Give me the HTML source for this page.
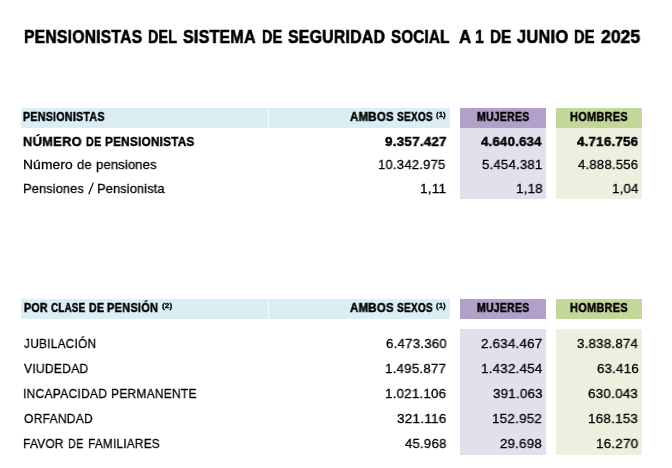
<!DOCTYPE html>
<html><head><meta charset="utf-8"><style>
html,body{margin:0;padding:0;background:#fff;width:672px;height:468px;overflow:hidden}
body{position:relative;font-family:"Liberation Sans",sans-serif;color:#000}
.b{position:absolute}
.t{position:absolute;white-space:pre;line-height:1;transform-origin:0 0;will-change:transform}
</style></head><body>
<div class="b" style="left:21px;top:108px;width:429px;height:20px;background:#DAEEF3"></div>
<div class="b" style="left:268px;top:108px;width:1px;height:20px;background:#F4FBFC"></div>
<div class="b" style="left:460px;top:108px;width:86px;height:20px;background:#B1A0C7"></div>
<div class="b" style="left:556px;top:108px;width:86px;height:20px;background:#C4D79B"></div>
<div class="b" style="left:460px;top:128px;width:86px;height:71px;background:#E4DFEC"></div>
<div class="b" style="left:556px;top:128px;width:86px;height:71px;background:#EBF1DE"></div>
<div class="b" style="left:21px;top:299px;width:429px;height:20px;background:#DAEEF3"></div>
<div class="b" style="left:268px;top:299px;width:1px;height:20px;background:#F4FBFC"></div>
<div class="b" style="left:460px;top:299px;width:86px;height:20px;background:#B1A0C7"></div>
<div class="b" style="left:556px;top:299px;width:86px;height:20px;background:#C4D79B"></div>
<div class="b" style="left:460px;top:329px;width:86px;height:125.5px;background:#E4DFEC"></div>
<div class="b" style="left:556px;top:329px;width:86px;height:125.5px;background:#EBF1DE"></div>
<svg class="b" style="left:85px;top:180px" width="12" height="17" viewBox="85 180 12 17"><line x1="88.7" y1="194.3" x2="93.4" y2="182.6" stroke="#000" stroke-width="1.15"/></svg>
<div class="t" style="left:23.98px;top:28px;font-size:18.314px;font-weight:700;transform:scaleX(0.8546);-webkit-text-stroke:0.6px #000;letter-spacing:0.30px">PENSIONISTAS</div>
<div class="t" style="left:148.07px;top:28px;font-size:18.314px;font-weight:700;transform:scaleX(0.7789);-webkit-text-stroke:0.6px #000;letter-spacing:0.30px">DEL</div>
<div class="t" style="left:183.30px;top:28px;font-size:18.314px;font-weight:700;transform:scaleX(0.8720);-webkit-text-stroke:0.6px #000;letter-spacing:0.30px">SISTEMA</div>
<div class="t" style="left:261.66px;top:28px;font-size:18.314px;font-weight:700;transform:scaleX(0.7875);-webkit-text-stroke:0.6px #000;letter-spacing:0.30px">DE</div>
<div class="t" style="left:288.10px;top:28px;font-size:18.314px;font-weight:700;transform:scaleX(0.8637);-webkit-text-stroke:0.6px #000;letter-spacing:0.30px">SEGURIDAD</div>
<div class="t" style="left:390.72px;top:28px;font-size:18.314px;font-weight:700;transform:scaleX(0.8257);-webkit-text-stroke:0.6px #000;letter-spacing:0.30px">SOCIAL</div>
<div class="t" style="left:458.56px;top:28px;font-size:18.314px;font-weight:700;transform:scaleX(0.9234);-webkit-text-stroke:0.6px #000">A</div>
<div class="t" style="left:475.36px;top:28px;font-size:18.314px;font-weight:700;transform:scaleX(0.8597);-webkit-text-stroke:0.6px #000">1</div>
<div class="t" style="left:490.22px;top:28px;font-size:18.314px;font-weight:700;transform:scaleX(0.8252);-webkit-text-stroke:0.6px #000;letter-spacing:0.30px">DE</div>
<div class="t" style="left:517.05px;top:28px;font-size:18.314px;font-weight:700;transform:scaleX(0.8950);-webkit-text-stroke:0.6px #000;letter-spacing:0.30px">JUNIO</div>
<div class="t" style="left:573.75px;top:28px;font-size:18.314px;font-weight:700;transform:scaleX(0.7959);-webkit-text-stroke:0.6px #000;letter-spacing:0.30px">DE</div>
<div class="t" style="left:600.67px;top:28px;font-size:18.314px;font-weight:700;transform:scaleX(0.9619);-webkit-text-stroke:0.6px #000">2025</div>
<div class="t" style="left:23.28px;top:112px;font-size:11.919px;font-weight:700;transform:scaleX(0.8939);-webkit-text-stroke:0.45px #000;letter-spacing:0.30px">PENSIONISTAS</div>
<div class="t" style="left:350.20px;top:112px;font-size:11.919px;font-weight:700;transform:scaleX(0.9591);-webkit-text-stroke:0.45px #000;letter-spacing:0.30px">AMBOS</div>
<div class="t" style="left:396.97px;top:112px;font-size:11.919px;font-weight:700;transform:scaleX(0.8439);-webkit-text-stroke:0.45px #000;letter-spacing:0.30px">SEXOS</div>
<div class="t" style="left:436.39px;top:111px;font-size:7.914px;font-weight:700;transform:scaleX(1.0071);-webkit-text-stroke:0.3px #000">(1)</div>
<div class="t" style="left:476.55px;top:112px;font-size:11.919px;font-weight:700;transform:scaleX(0.8771);-webkit-text-stroke:0.45px #000;letter-spacing:0.30px">MUJERES</div>
<div class="t" style="left:569.51px;top:112px;font-size:11.919px;font-weight:700;transform:scaleX(0.9194);-webkit-text-stroke:0.45px #000;letter-spacing:0.30px">HOMBRES</div>
<div class="t" style="left:23.53px;top:303px;font-size:11.919px;font-weight:700;transform:scaleX(0.8940);-webkit-text-stroke:0.45px #000;letter-spacing:0.30px">POR</div>
<div class="t" style="left:50.63px;top:303px;font-size:11.919px;font-weight:700;transform:scaleX(0.8223);-webkit-text-stroke:0.45px #000;letter-spacing:0.30px">CLASE</div>
<div class="t" style="left:88.74px;top:303px;font-size:11.919px;font-weight:700;transform:scaleX(0.8855);-webkit-text-stroke:0.45px #000;letter-spacing:0.30px">DE</div>
<div class="t" style="left:107.41px;top:303px;font-size:11.919px;font-weight:700;transform:scaleX(0.9198);-webkit-text-stroke:0.45px #000;letter-spacing:0.30px">PENSIÓN</div>
<div class="t" style="left:161.77px;top:302px;font-size:7.914px;font-weight:700;transform:scaleX(1.0630);-webkit-text-stroke:0.3px #000">(2)</div>
<div class="t" style="left:350.20px;top:303px;font-size:11.919px;font-weight:700;transform:scaleX(0.9591);-webkit-text-stroke:0.45px #000;letter-spacing:0.30px">AMBOS</div>
<div class="t" style="left:396.97px;top:303px;font-size:11.919px;font-weight:700;transform:scaleX(0.8439);-webkit-text-stroke:0.45px #000;letter-spacing:0.30px">SEXOS</div>
<div class="t" style="left:436.39px;top:302px;font-size:7.914px;font-weight:700;transform:scaleX(1.0071);-webkit-text-stroke:0.3px #000">(1)</div>
<div class="t" style="left:476.55px;top:303px;font-size:11.919px;font-weight:700;transform:scaleX(0.8771);-webkit-text-stroke:0.45px #000;letter-spacing:0.30px">MUJERES</div>
<div class="t" style="left:569.51px;top:303px;font-size:11.919px;font-weight:700;transform:scaleX(0.9194);-webkit-text-stroke:0.45px #000;letter-spacing:0.30px">HOMBRES</div>
<div class="t" style="left:23.49px;top:135px;font-size:13.663px;font-weight:700;transform:scaleX(0.9430);-webkit-text-stroke:0.45px #000;letter-spacing:0.30px">NÚMERO</div>
<div class="t" style="left:86.13px;top:135px;font-size:13.663px;font-weight:700;transform:scaleX(0.7855);-webkit-text-stroke:0.45px #000;letter-spacing:0.30px">DE</div>
<div class="t" style="left:105.46px;top:135px;font-size:13.663px;font-weight:700;transform:scaleX(0.8590);-webkit-text-stroke:0.45px #000;letter-spacing:0.30px">PENSIONISTAS</div>
<div class="t" style="left:384.72px;top:135px;font-size:13.663px;font-weight:700;transform:scaleX(0.9876);-webkit-text-stroke:0.45px #000;letter-spacing:0.20px">9.357.427</div>
<div class="t" style="left:481.13px;top:135px;font-size:13.663px;font-weight:700;transform:scaleX(0.9692);-webkit-text-stroke:0.45px #000;letter-spacing:0.20px">4.640.634</div>
<div class="t" style="left:577.12px;top:135px;font-size:13.663px;font-weight:700;transform:scaleX(0.9784);-webkit-text-stroke:0.45px #000;letter-spacing:0.20px">4.716.756</div>
<div class="t" style="left:23.24px;top:158px;font-size:13.663px;font-weight:400;transform:scaleX(1.0139);-webkit-text-stroke:0.3px #000;letter-spacing:0.10px">Número</div>
<div class="t" style="left:76.93px;top:158px;font-size:13.663px;font-weight:400;transform:scaleX(0.9515);-webkit-text-stroke:0.3px #000;letter-spacing:0.10px">de</div>
<div class="t" style="left:95.96px;top:158px;font-size:13.663px;font-weight:400;transform:scaleX(0.9605);-webkit-text-stroke:0.3px #000;letter-spacing:0.10px">pensiones</div>
<div class="t" style="left:378.17px;top:158px;font-size:13.663px;font-weight:400;transform:scaleX(0.9593);-webkit-text-stroke:0.3px #000;letter-spacing:0.20px">10.342.975</div>
<div class="t" style="left:481.72px;top:158px;font-size:13.663px;font-weight:400;transform:scaleX(0.9656);-webkit-text-stroke:0.3px #000;letter-spacing:0.20px">5.454.381</div>
<div class="t" style="left:577.89px;top:158px;font-size:13.663px;font-weight:400;transform:scaleX(0.9619);-webkit-text-stroke:0.3px #000;letter-spacing:0.20px">4.888.556</div>
<div class="t" style="left:23.32px;top:182px;font-size:13.663px;font-weight:400;transform:scaleX(0.9423);-webkit-text-stroke:0.3px #000;letter-spacing:0.10px">Pensiones</div>
<div class="t" style="left:97.32px;top:182px;font-size:13.663px;font-weight:400;transform:scaleX(0.9434);-webkit-text-stroke:0.3px #000;letter-spacing:0.10px">Pensionista</div>
<div class="t" style="left:419.63px;top:182px;font-size:13.663px;font-weight:400;transform:scaleX(0.9991);-webkit-text-stroke:0.3px #000;letter-spacing:0.20px">1,11</div>
<div class="t" style="left:515.65px;top:182px;font-size:13.663px;font-weight:400;transform:scaleX(0.9803);-webkit-text-stroke:0.3px #000;letter-spacing:0.20px">1,18</div>
<div class="t" style="left:611.65px;top:182px;font-size:13.663px;font-weight:400;transform:scaleX(0.9725);-webkit-text-stroke:0.3px #000;letter-spacing:0.20px">1,04</div>
<div class="t" style="left:23.67px;top:337px;font-size:13.663px;font-weight:400;transform:scaleX(0.8679);-webkit-text-stroke:0.3px #000;letter-spacing:0.30px">JUBILACIÓN</div>
<div class="t" style="left:385.58px;top:337px;font-size:13.663px;font-weight:400;transform:scaleX(0.9738);-webkit-text-stroke:0.3px #000;letter-spacing:0.20px">6.473.360</div>
<div class="t" style="left:481.08px;top:337px;font-size:13.663px;font-weight:400;transform:scaleX(0.9809);-webkit-text-stroke:0.3px #000;letter-spacing:0.20px">2.634.467</div>
<div class="t" style="left:577.18px;top:337px;font-size:13.663px;font-weight:400;transform:scaleX(0.9765);-webkit-text-stroke:0.3px #000;letter-spacing:0.20px">3.838.874</div>
<div class="t" style="left:24.15px;top:362px;font-size:13.663px;font-weight:400;transform:scaleX(0.8826);-webkit-text-stroke:0.3px #000;letter-spacing:0.30px">VIUDEDAD</div>
<div class="t" style="left:385.35px;top:362px;font-size:13.663px;font-weight:400;transform:scaleX(0.9765);-webkit-text-stroke:0.3px #000;letter-spacing:0.20px">1.495.877</div>
<div class="t" style="left:480.74px;top:362px;font-size:13.663px;font-weight:400;transform:scaleX(0.9820);-webkit-text-stroke:0.3px #000;letter-spacing:0.20px">1.432.454</div>
<div class="t" style="left:596.69px;top:362px;font-size:13.663px;font-weight:400;transform:scaleX(0.9725);-webkit-text-stroke:0.3px #000;letter-spacing:0.20px">63.416</div>
<div class="t" style="left:23.07px;top:387px;font-size:13.663px;font-weight:400;transform:scaleX(0.8803);-webkit-text-stroke:0.3px #000;letter-spacing:0.30px">INCAPACIDAD</div>
<div class="t" style="left:110.89px;top:387px;font-size:13.663px;font-weight:400;transform:scaleX(0.8757);-webkit-text-stroke:0.3px #000;letter-spacing:0.30px">PERMANENTE</div>
<div class="t" style="left:385.15px;top:387px;font-size:13.663px;font-weight:400;transform:scaleX(0.9787);-webkit-text-stroke:0.3px #000;letter-spacing:0.20px">1.021.106</div>
<div class="t" style="left:492.68px;top:387px;font-size:13.663px;font-weight:400;transform:scaleX(0.9789);-webkit-text-stroke:0.3px #000;letter-spacing:0.20px">391.063</div>
<div class="t" style="left:588.48px;top:387px;font-size:13.663px;font-weight:400;transform:scaleX(0.9849);-webkit-text-stroke:0.3px #000;letter-spacing:0.20px">630.043</div>
<div class="t" style="left:23.71px;top:412px;font-size:13.663px;font-weight:400;transform:scaleX(0.8820);-webkit-text-stroke:0.3px #000;letter-spacing:0.30px">ORFANDAD</div>
<div class="t" style="left:396.98px;top:412px;font-size:13.663px;font-weight:400;transform:scaleX(0.9931);-webkit-text-stroke:0.3px #000;letter-spacing:0.20px">321.116</div>
<div class="t" style="left:492.44px;top:412px;font-size:13.663px;font-weight:400;transform:scaleX(0.9850);-webkit-text-stroke:0.3px #000;letter-spacing:0.20px">152.952</div>
<div class="t" style="left:588.44px;top:412px;font-size:13.663px;font-weight:400;transform:scaleX(0.9857);-webkit-text-stroke:0.3px #000;letter-spacing:0.20px">168.153</div>
<div class="t" style="left:23.20px;top:437px;font-size:13.663px;font-weight:400;transform:scaleX(0.8722);-webkit-text-stroke:0.3px #000;letter-spacing:0.30px">FAVOR</div>
<div class="t" style="left:67.78px;top:437px;font-size:13.663px;font-weight:400;transform:scaleX(0.7949);-webkit-text-stroke:0.3px #000;letter-spacing:0.30px">DE</div>
<div class="t" style="left:87.61px;top:437px;font-size:13.663px;font-weight:400;transform:scaleX(0.8612);-webkit-text-stroke:0.3px #000;letter-spacing:0.30px">FAMILIARES</div>
<div class="t" style="left:404.89px;top:437px;font-size:13.663px;font-weight:400;transform:scaleX(0.9653);-webkit-text-stroke:0.3px #000;letter-spacing:0.20px">45.968</div>
<div class="t" style="left:500.48px;top:437px;font-size:13.663px;font-weight:400;transform:scaleX(0.9749);-webkit-text-stroke:0.3px #000;letter-spacing:0.20px">29.698</div>
<div class="t" style="left:596.14px;top:437px;font-size:13.663px;font-weight:400;transform:scaleX(0.9837);-webkit-text-stroke:0.3px #000;letter-spacing:0.20px">16.270</div>
</body></html>
